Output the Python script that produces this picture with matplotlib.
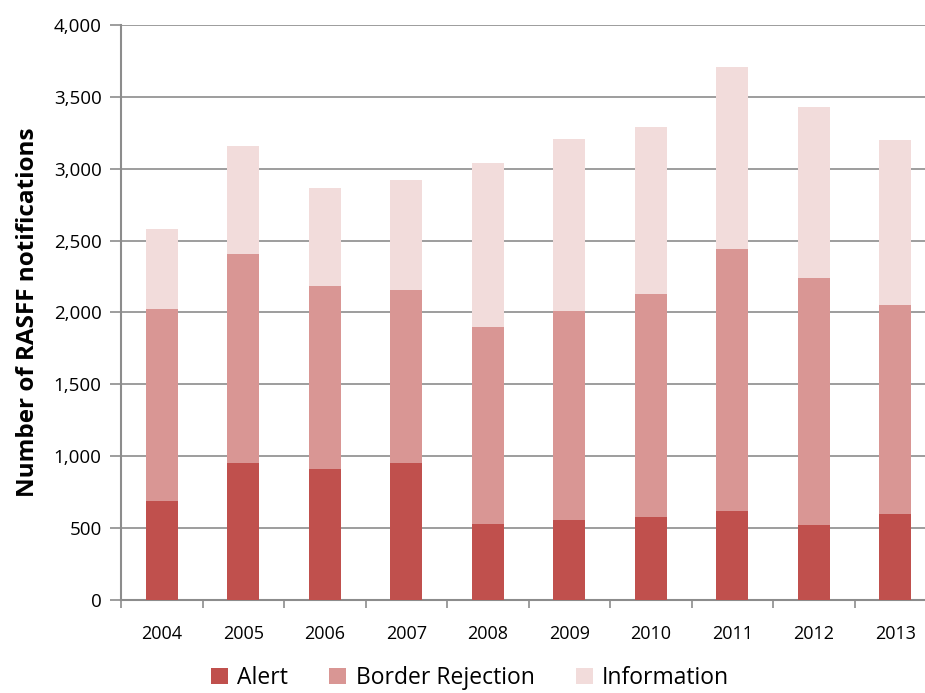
"""
RASFF notifications by type, 2004-2013 (stacked bars).
"""
import matplotlib
matplotlib.use('Agg')
import matplotlib.pyplot as plt
import numpy as np

years = ['2004', '2005', '2006', '2007', '2008', '2009', '2010', '2011', '2012', '2013']
alert = [691, 953, 911, 953, 529, 557, 577, 619, 522, 598]
border_rejection = [1333, 1456, 1273, 1206, 1372, 1453, 1552, 1823, 1720, 1456]
information = [557, 747, 684, 763, 1141, 1195, 1164, 1266, 1188, 1149]

plt.rcParams['font.family'] = ['Open Sans', 'DejaVu Sans']

f = plt.figure(figsize=(9.25, 6.93), dpi=100)
ax = f.add_axes([121 / 925, 1 - 600 / 693, (936 - 121) / 925, (600 - 25) / 693])

x = np.arange(len(years))
a = np.array(alert)
b = np.array(border_rejection)
c = np.array(information)
w = 0.39
ax.bar(x, a, w, color='#C0504D', label='Alert', zorder=3)
ax.bar(x, b, w, bottom=a, color='#D99694', label='Border Rejection', zorder=3)
ax.bar(x, c, w, bottom=a + b, color='#F2DCDB', label='Information', zorder=3)

ax.set_xlim(-0.5, len(years) - 0.5)
ax.set_ylim(0, 4000)
ax.set_yticks(np.arange(0, 4001, 500))
ax.set_yticklabels([f'{v:,}' for v in range(0, 4001, 500)])
ax.yaxis.grid(True, color='#8c8c8c', linewidth=1.2, zorder=0)
ax.set_axisbelow(True)

# ticks between categories, labels centred
ax.set_xticks(np.arange(-0.5, len(years), 1.0))
ax.set_xticklabels([])
ax.set_xticks(x, minor=True)
ax.set_xticklabels(years, minor=True)
ax.tick_params(axis='x', which='major', length=6, width=1.2, color='#8c8c8c', direction='out')
ax.tick_params(axis='x', which='minor', length=0, labelsize=13, pad=18)
ax.tick_params(axis='y', length=8, width=1.2, color='#8c8c8c', labelsize=13.5, pad=6)

for s in ['top', 'right']:
    ax.spines[s].set_visible(False)
for s in ['left', 'bottom']:
    ax.spines[s].set_color('#8c8c8c')
    ax.spines[s].set_linewidth(1.5)

ax.set_ylabel('Number of RASFF notifications', fontsize=17.5, fontweight='bold', labelpad=10)

f.legend(loc='center', bbox_to_anchor=(470 / 925, 1 - 678 / 693), ncol=3,
         frameon=False, fontsize=16.5, handlelength=0.75, handleheight=0.75,
         handletextpad=0.4, columnspacing=1.8)

plt.savefig('out.png', dpi=100)
